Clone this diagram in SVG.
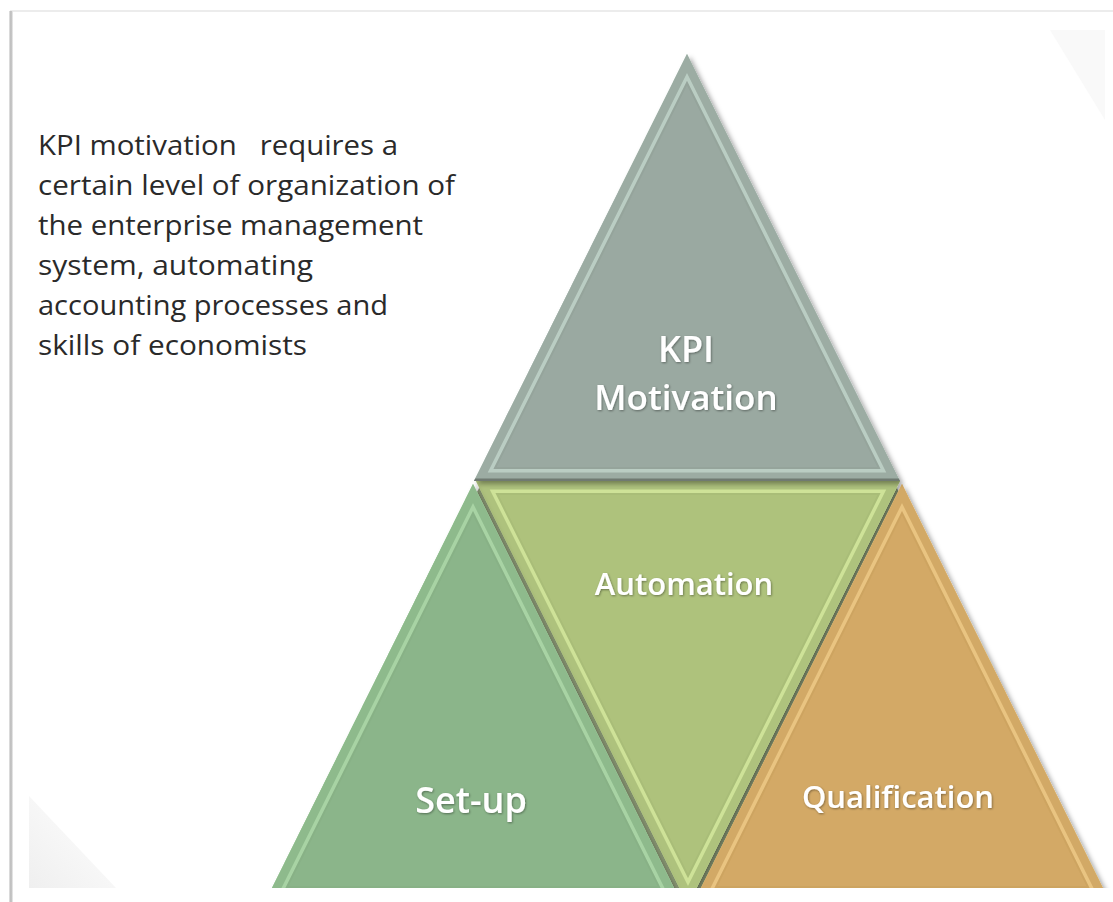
<svg xmlns="http://www.w3.org/2000/svg" width="1113" height="902" viewBox="0 0 1113 902">
<style>
.desc{font-family:"Open Sans","Liberation Sans",sans-serif;font-size:27px;fill:#2a2a2a}
.lbl{font-family:"Open Sans","Liberation Sans",sans-serif;font-weight:600;fill:#ffffff;text-anchor:middle;filter:url(#tsh)}
</style>
<defs>
<filter id="sh" x="-10%" y="-10%" width="130%" height="130%">
<feDropShadow dx="3" dy="3" stdDeviation="2.5" flood-color="#000" flood-opacity="0.35"/>
</filter>
<filter id="tsh" x="-10%" y="-20%" width="120%" height="150%">
<feDropShadow dx="0.8" dy="1" stdDeviation="1" flood-color="#000" flood-opacity="0.4"/>
</filter>
<linearGradient id="lframe" x1="0" y1="0" x2="1" y2="0">
<stop offset="0" stop-color="#e6e6e6"/><stop offset="0.5" stop-color="#b5b5b5"/><stop offset="1" stop-color="#f2f2f2"/>
</linearGradient>
<linearGradient id="blg" x1="0" y1="1" x2="1" y2="0">
<stop offset="0" stop-color="#efefef"/><stop offset="1" stop-color="#ffffff"/>
</linearGradient>
<clipPath id="slide"><rect x="0" y="0" width="1113" height="888"/></clipPath>
<clipPath id="cTop"><polygon points="687,54 474,481 900,481"/></clipPath>
<clipPath id="cMid"><polygon points="476,481 900,481 688,905"/></clipPath>
<clipPath id="cLeft"><polygon points="473,484 266,900 680,900"/></clipPath>
<clipPath id="cRight"><polygon points="902,484 695,900 1109,900"/></clipPath>
</defs>
<rect width="1113" height="902" fill="#ffffff"/>
<rect x="10" y="10" width="1103" height="2" fill="#ececec"/>
<rect x="9" y="11" width="4" height="891" fill="url(#lframe)"/>
<polygon points="1050,30 1105,30 1105,120" fill="#f9f9f9"/>
<polygon points="29,796 29,888 116,888" fill="url(#blg)"/>

<g id="description">
<text class="desc" x="38" y="155" textLength="360" lengthAdjust="spacingAndGlyphs" xml:space="preserve">KPI motivation   requires a</text>
<text class="desc" x="38" y="195" textLength="417" lengthAdjust="spacingAndGlyphs">certain level of organization of</text>
<text class="desc" x="38" y="235" textLength="385" lengthAdjust="spacingAndGlyphs">the enterprise management</text>
<text class="desc" x="38" y="275" textLength="275" lengthAdjust="spacingAndGlyphs">system, automating</text>
<text class="desc" x="38" y="315" textLength="350" lengthAdjust="spacingAndGlyphs">accounting processes and</text>
<text class="desc" x="38" y="355" textLength="269" lengthAdjust="spacingAndGlyphs">skills of economists</text>
</g>

<g clip-path="url(#slide)">
<polygon points="482,482 894,482 1098,895 278,895" fill="#93a27c"/>
<g id="node-automation" filter="url(#sh)">
<g clip-path="url(#cMid)">
<polygon points="476,481 900,481 688,905" fill="#aec27c"/>
<polygon points="476,481 900,481 688,905" fill="none" stroke="#dcf0a4" stroke-width="24"/>
<polygon points="476,481 900,481 688,905" fill="none" stroke="#b4c982" stroke-width="17"/>
<polygon points="476,481 900,481 688,905" fill="none" stroke="#98aa68" stroke-width="28" stroke-opacity="0.2"/>
</g>
</g>
<g id="node-setup" filter="url(#sh)">
<g clip-path="url(#cLeft)">
<polygon points="473,484 266,900 680,900" fill="#8bb58a"/>
<polygon points="473,484 266,900 680,900" fill="none" stroke="#b6e2b2" stroke-width="24"/>
<polygon points="473,484 266,900 680,900" fill="none" stroke="#93c192" stroke-width="17"/>
<polygon points="473,484 266,900 680,900" fill="none" stroke="#7ea77d" stroke-width="28" stroke-opacity="0.25"/>
</g>
</g>
<g id="node-qualification" filter="url(#sh)">
<g clip-path="url(#cRight)">
<polygon points="902,484 695,900 1109,900" fill="#d3a966"/>
<polygon points="902,484 695,900 1109,900" fill="none" stroke="#f6d18e" stroke-width="24"/>
<polygon points="902,484 695,900 1109,900" fill="none" stroke="#d9b06c" stroke-width="17"/>
<polygon points="902,484 695,900 1109,900" fill="none" stroke="#b88f52" stroke-width="28" stroke-opacity="0.2"/>
</g>
</g>
</g>
<g id="node-kpi" filter="url(#sh)">
<g clip-path="url(#cTop)">
<polygon points="687,54 474,481 900,481" fill="#9aa9a1"/>
<polygon points="687,54 474,481 900,481" fill="none" stroke="#c9ddd3" stroke-width="24"/>
<polygon points="687,54 474,481 900,481" fill="none" stroke="#a3b3aa" stroke-width="17"/>
<polygon points="687,54 474,481 900,481" fill="none" stroke="#839088" stroke-width="28" stroke-opacity="0.2"/>
<line x1="474" y1="480" x2="900" y2="480" stroke="#6f7a72" stroke-width="3"/>
</g>
</g>

<g id="labels">
<text class="lbl" x="686" y="362" font-size="36">KPI</text>
<text class="lbl" x="686" y="410" font-size="35">Motivation</text>
<text class="lbl" x="684" y="595" font-size="31">Automation</text>
<text class="lbl" x="471" y="813" font-size="36">Set-up</text>
<text class="lbl" x="898" y="808" font-size="31">Qualification</text>
</g>
<g id="connectors"/>
</svg>
